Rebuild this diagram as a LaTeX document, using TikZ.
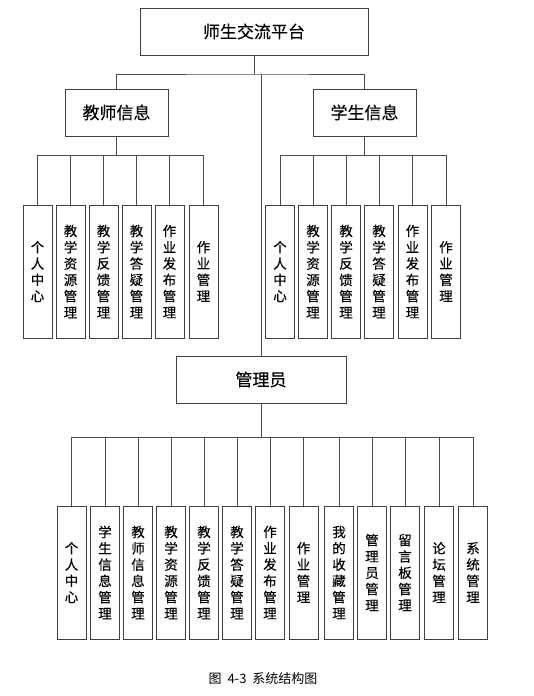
\documentclass[tikz,border=0pt]{standalone}
\usepackage{fontspec}
\setmainfont{Noto Sans CJK SC}
\newfontfamily\cjk[FakeBold=0.2]{Noto Sans CJK SC}
\newfontfamily\capfont{Noto Sans CJK SC}
\begin{document}
\begin{tikzpicture}[x=1pt,y=-1pt,
  box/.style={draw=black!75,line width=1pt,fill=white,inner sep=0pt,font=\cjk\fontsize{17}{20}\selectfont},
  vbox/.style={draw=black!75,line width=1pt,fill=white,inner sep=0pt,minimum width=29pt,minimum height=133pt,align=center,font=\cjk\fontsize{13.5}{16.3}\selectfont},
  link/.style={draw=black!70,line width=0.8pt}]
\useasboundingbox (0,0) rectangle (533,696);
% top levels
\node[box,minimum width=228pt,minimum height=47pt] (top) at (254,31.5) {师生交流平台};
\node[box,minimum width=103pt,minimum height=47pt] (tea) at (116.5,112.5) {教师信息};
\node[box,minimum width=103pt,minimum height=47pt] (stu) at (364.5,112.5) {学生信息};
\node[box,minimum width=170pt,minimum height=47pt] (mgr) at (261,379.5) {管理员};
\coordinate (j1) at (254,74);
\coordinate (j2) at (116.5,155);
\coordinate (j3) at (364.5,155);
\coordinate (j4) at (261,437);
% teacher children
\foreach \n/\x/\t in {1/37.5/个\\人\\中\\心, 2/70.5/教\\学\\资\\源\\管\\理, 3/103.5/教\\学\\反\\馈\\管\\理, 4/136.5/教\\学\\答\\疑\\管\\理, 5/169.5/作\\业\\发\\布\\管\\理, 6/203.5/作\\业\\管\\理}
  \node[vbox] (tc\n) at (\x,271.5) {\t};
% student children
\foreach \n/\x/\t in {1/280/个\\人\\中\\心, 2/313/教\\学\\资\\源\\管\\理, 3/346/教\\学\\反\\馈\\管\\理, 4/379/教\\学\\答\\疑\\管\\理, 5/412.5/作\\业\\发\\布\\管\\理, 6/446/作\\业\\管\\理}
  \node[vbox] (sc\n) at (\x,271.5) {\t};
% admin children
\foreach \n/\x/\t in {1/71.5/个\\人\\中\\心, 2/105/学\\生\\信\\息\\管\\理, 3/138/教\\师\\信\\息\\管\\理, 4/171/教\\学\\资\\源\\管\\理, 5/204/教\\学\\反\\馈\\管\\理, 6/237/教\\学\\答\\疑\\管\\理, 7/270/作\\业\\发\\布\\管\\理, 8/303.5/作\\业\\管\\理, 9/339/我\\的\\收\\藏\\管\\理, 10/372/管\\理\\员\\管\\理, 11/405/留\\言\\板\\管\\理, 12/439/论\\坛\\管\\理, 13/473/系\\统\\管\\理}
  \node[vbox] (ac\n) at (\x,572.5) {\t};
% connectors
\draw[link] (top.south) -- (j1);
\draw[link] (tea.north) |- (j1) -| (stu.north);
\draw[link] (j1 -| mgr.north) -- (mgr.north);
\draw[link] (tea.south) -- (j2);
\draw[link] (stu.south) -- (j3);
\draw[link] (mgr.south) -- (j4);
\foreach \n in {1,...,6} {
  \draw[link] (tc\n.north) |- (j2);
  \draw[link] (sc\n.north) |- (j3);
}
\foreach \n in {1,...,13}
  \draw[link] (ac\n.north) |- (j4);
% caption
\node[font=\capfont\fontsize{13}{15}\selectfont] (cap) at (263,679) {图\hspace{6pt}4-3\hspace{6pt}系统结构图};
\end{tikzpicture}
\end{document}
